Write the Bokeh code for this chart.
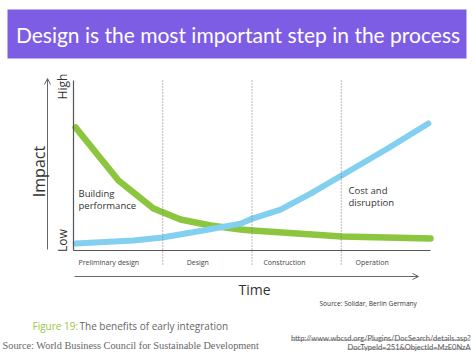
import math
from bokeh.plotting import figure
from bokeh.models import Range1d, Label, BoxAnnotation, Arrow, OpenHead
from bokeh.embed import file_html
from bokeh.resources import INLINE

# ---- data (time 0-100, impact 0-100) ----
perf_x = [0.6, 12.6, 22.4, 30.0, 38.4, 46.8, 50.1, 62.7, 75.1, 100.0]
perf_y = [72.4, 41.2, 24.7, 18.2, 14.7, 12.4, 11.8, 10.0, 8.2, 7.1]
cost_x = [0.6, 16.8, 24.9, 37.5, 46.8, 50.1, 58.0, 66.4, 75.1, 88.0, 99.4]
cost_y = [4.1, 5.9, 7.6, 12.2, 15.8, 18.8, 24.1, 33.5, 44.1, 60.0, 74.7]
phase_bounds = [25, 50, 75]
phase_names = ["Preliminary design", "Design", "Construction", "Operation"]
phase_label_x = [1.4, 31.7, 53.2, 79.0]

W, H = 474, 355
FL, FR, FT, FB = 73, 430, 80, 250  # pixel edges of the chart area

def dx(px):
    return (px - FL) / (FR - FL) * 100.0

def dy(py):
    return (FB - py) / (FB - FT) * 100.0

p = figure(width=W, height=H, output_backend="svg", toolbar_location=None,
           x_range=Range1d(dx(0), dx(W)), y_range=Range1d(dy(H), dy(0)),
           x_axis_location=None, y_axis_location=None,
           min_border=0)
p.outline_line_color = None
p.background_fill_color = "white"
p.border_fill_color = "white"
p.grid.visible = False

# title bar
p.add_layout(BoxAnnotation(left=dx(7), right=dx(466), top=dy(9), bottom=dy(58),
                           fill_color="#7d5de4", fill_alpha=1, line_color=None))
p.add_layout(Label(x=dx(237.5), y=dy(34), text="Design is the most important step in the process",
                   text_align="center", text_baseline="middle", text_color="white",
                   text_font="Lato", text_font_size="21px"))

# phase separators
for b in phase_bounds:
    p.add_layout(Arrow(end=None, x_start=b, x_end=b, y_start=100, y_end=dy(266),
                       line_color="#777777", line_width=1, line_dash="1 2"))

# chart axes
p.add_layout(Arrow(end=None, x_start=0, x_end=0, y_start=0, y_end=100,
                   line_color="#555555", line_width=1.2))
p.add_layout(Arrow(end=None, x_start=0, x_end=100, y_start=0, y_end=0,
                   line_color="#555555", line_width=1.2))

# curves
p.line(perf_x, perf_y, line_color="#8cc63e", line_width=6.5, line_join="round", line_cap="round")
p.line(cost_x, cost_y, line_color="#82cff0", line_width=6, line_join="round", line_cap="round")

# outer arrows
p.add_layout(Arrow(x_start=dx(47), y_start=dy(249), x_end=dx(47), y_end=dy(78),
                   line_color="#666666", line_width=1,
                   end=OpenHead(size=6, line_color="#666666", line_width=1)))
p.add_layout(Arrow(x_start=dx(74), y_start=dy(276), x_end=dx(418), y_end=dy(276),
                   line_color="#666666", line_width=1,
                   end=OpenHead(size=6, line_color="#666666", line_width=1)))

txt = "#333333"
def lab(x, y, t, size, color=txt, align="left", baseline="alphabetic", font="Open Sans", angle=0):
    p.add_layout(Label(x=x, y=y, text=t, text_align=align, text_baseline=baseline,
                       text_color=color, text_font=font, text_font_size=size, angle=angle))

lab(dx(38), dy(171), "Impact", "16px", align="center", baseline="middle", angle=math.pi / 2)
lab(dx(62), dy(86), "High", "12px", align="center", baseline="middle", angle=math.pi / 2)
lab(dx(62), dy(240), "Low", "12px", align="center", baseline="middle", angle=math.pi / 2)
lab(dx(254), dy(289), "Time", "14px", align="center")

lab(dx(78), dy(193), "Building", "9.5px")
lab(dx(78), dy(205), "performance", "9.5px")
lab(dx(348), dy(190), "Cost and", "9.5px")
lab(dx(348), dy(202), "disruption", "9.5px")

for name, lx in zip(phase_names, phase_label_x):
    lab(lx, dy(262), name, "7px", color="#444444")

lab(dx(319), dy(303), "Source: Solidar, Berlin Germany", "6.6px")
lab(dx(32), dy(325), "Figure 19:", "10px", color="#9bc53d")
lab(dx(79), dy(325), "The benefits of early integration", "10px", color="#666666")
lab(dx(2), dy(345), "Source: World Business Council for Sustainable Development", "10.3px",
    color="#666666", font="Liberation Serif")
lab(dx(470), dy(338), "http://www.wbcsd.org/Plugins/DocSearch/details.asp?", "7.5px",
    color="#555555", align="right", font="Lato")
lab(dx(470), dy(347), "DocTypeId=251&ObjectId=MzE0NzA", "7.5px",
    color="#555555", align="right", font="Lato")
# underlines
p.add_layout(Arrow(end=None, x_start=dx(291), x_end=dx(470), y_start=dy(339.5), y_end=dy(339.5),
                   line_color="#777777", line_width=0.7))
p.add_layout(Arrow(end=None, x_start=dx(347), x_end=dx(470), y_start=dy(348.5), y_end=dy(348.5),
                   line_color="#777777", line_width=0.7))

open("out.html", "w").write(file_html(p, INLINE))
